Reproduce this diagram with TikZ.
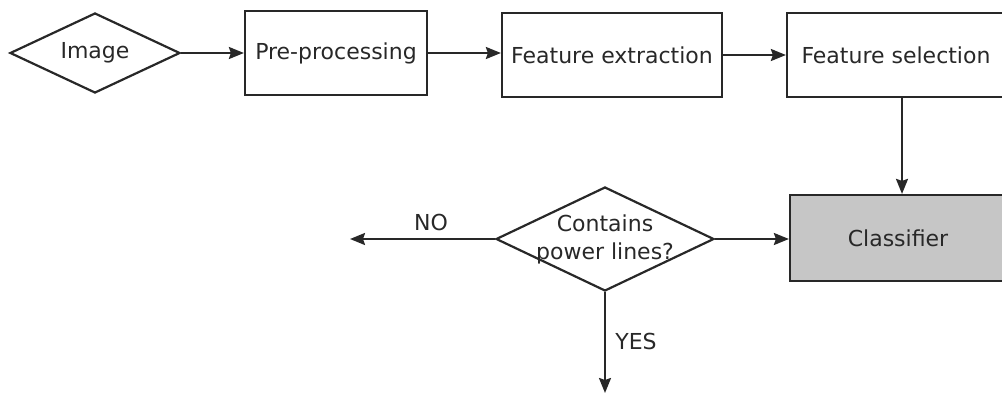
\documentclass[tikz,border=0pt]{standalone}
\usepackage{fontspec}
\setmainfont{DejaVu Sans}
\usetikzlibrary{shapes.geometric,arrows.meta}
\definecolor{ink}{RGB}{40,40,40}
\definecolor{boxgray}{RGB}{198,198,198}
\tikzset{
  every node/.style={font=\fontsize{22}{28}\selectfont, text=ink},
  stepbox/.style={draw=ink, line width=2.2pt, rectangle, inner sep=0pt},
  decision/.style={draw=ink, line width=2.2pt, diamond, inner sep=0pt, aspect=2},
  arr/.style={draw=ink, line width=2.2pt, -{Stealth[length=15pt,width=12pt,inset=2pt]}},
  lbl/.style={inner sep=0pt}
}
\begin{document}
\begin{tikzpicture}[x=1pt,y=-1pt]
  \useasboundingbox (0,0) rectangle (1002,394);

  % processing chain
  \node[decision, minimum width=170pt, minimum height=80pt] (img) at (95,53) {Image};
  \node[stepbox, minimum width=182pt, minimum height=84pt] (pre) at (336,53) {Pre-processing};
  \node[stepbox, minimum width=220pt, minimum height=84pt] (fe) at (612,55) {Feature extraction};
  \node[stepbox, minimum width=218pt, minimum height=84pt] (fs) at (896,55) {Feature selection};
  \node[stepbox, fill=boxgray, minimum width=216pt, minimum height=86pt] (cls) at (898,238) {Classifier};

  % decision
  \node[decision, minimum width=218pt, minimum height=104pt,
        label={[lbl, align=center]center:Contains\\power lines?}] (dec) at (605,239) {};

  \coordinate (noend) at (350,239);
  \coordinate (yesend) at (605,393);

  % connectors
  \draw[arr] (img.east) -- (img.east -| pre.west);
  \draw[arr] (pre.east) -- (pre.east -| fe.west);
  \draw[arr] (fe.east) -- (fs.west);
  \draw[arr] ([xshift=6pt]fs.south) -- ([xshift=6pt]fs.south |- cls.north);
  \draw[arr] (dec.east) -- (dec.east -| cls.west);
  \draw[arr] (dec.west) -- (noend);
  \draw[arr] (dec.south) -- (yesend);

  % branch labels
  \node[lbl] (no) at (431,222) {NO};
  \node[lbl] (yes) at (636,341) {YES};
\end{tikzpicture}
\end{document}
